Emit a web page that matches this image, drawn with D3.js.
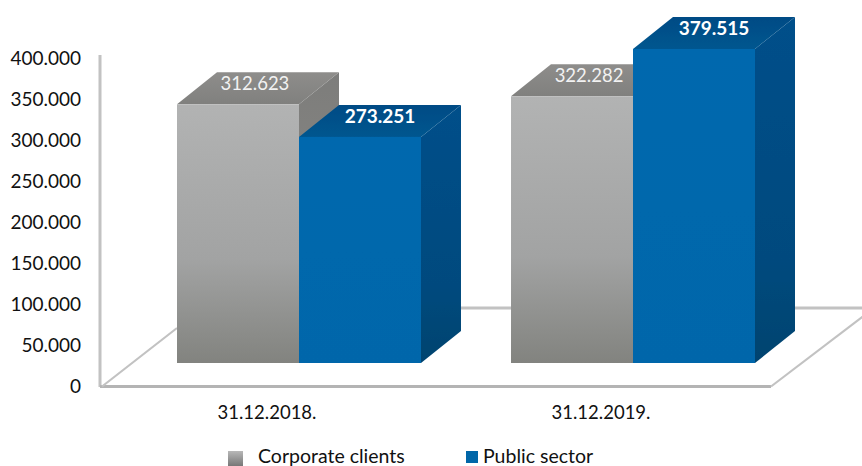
<!DOCTYPE html>
<html><head><meta charset="utf-8">
<script src="https://cdn.jsdelivr.net/npm/d3@7/dist/d3.min.js"></script>
<style>html,body{margin:0;padding:0;background:#fff;overflow:hidden}svg{display:block}text{font-family:Lato,"Open Sans",sans-serif}</style>
</head><body><svg id="c" width="862" height="466"></svg>
<script>
const categories = ["31.12.2018.", "31.12.2019."];
const seriesNames = ["Corporate clients", "Public sector"];
const corporate = [312.623, 322.282];
const publicSector = [273.251, 379.515];
const tickValues = [0, 50, 100, 150, 200, 250, 300, 350, 400];

const svg = d3.select("#c");
const fmt = v => v === 0 ? "0" : d3.format(".3f")(v);
const depthX = 40, depthY = 32, baseY = 363;

const x0 = d3.scaleBand().domain(categories).range([177, 755]).paddingInner(0.2695);
const x1 = d3.scaleBand().domain(seriesNames).range([0, x0.bandwidth()]);
const yBar = d3.scaleLinear().domain([0, 400]).range([baseY, baseY - 331]);
const yAxis = d3.scaleLinear().domain([0, 400]).range([386, 58]);

const defs = svg.append("defs");
const grad = (id, stops, h) => {
  const g = defs.append("linearGradient").attr("id", id)
    .attr("x1", 0).attr("y1", 0).attr("x2", h ? 1 : 0).attr("y2", h ? 0 : 1);
  stops.forEach(([o, c]) => g.append("stop").attr("offset", o).attr("stop-color", c));
};
grad("gf", [[0, "#b2b3b3"], [0.6, "#a2a3a3"], [1, "#82837f"]]);
grad("gt", [[0, "#8e8d8b"], [1, "#80807e"]]);
grad("gs", [[0, "#7d7d7b"], [1, "#8f8e8b"]]);
grad("bf", [[0, "#0068ae"], [1, "#0066aa"]]);
grad("bt", [[0, "#004b85"], [1, "#00568f"]]);
grad("bs", [[0, "#004f8a"], [0.7, "#004a7e"], [1, "#00436f"]]);
grad("lg", [[0, "#b8b8b8"], [1, "#777"]]);
defs.append("filter").attr("id", "soft").append("feGaussianBlur").attr("stdDeviation", 0.7);

// chart walls and floor
const frame = svg.append("g").attr("fill", "none").attr("stroke", "#c2c2c2").attr("filter", "url(#soft)");
frame.append("path").attr("stroke-width", 3).attr("d", "M100,55V387");
frame.append("path").attr("stroke-width", 3.2).attr("stroke", "#b4b4b4").attr("d", "M100,386.5H771");
frame.append("path").attr("stroke-width", 2.2).attr("d", "M102,386.5L177,328");
frame.append("path").attr("stroke-width", 2.2).attr("d", "M771,386.5L866,314");
frame.append("path").attr("stroke-width", 3).attr("d", "M461,308H862");

// axis tick labels
const axis = d3.axisLeft(yAxis).tickValues(tickValues).tickFormat(fmt).tickSize(0).tickPadding(0);
const axG = svg.append("g").attr("transform", "translate(81,0)").call(axis);
axG.select(".domain").remove();
axG.selectAll("text").attr("font-size", 19).attr("fill", "#111").style("font-family", "Lato,'Open Sans',sans-serif");

// bars
const barData = (name, vals) => categories.map((c, i) => ({c, name, v: vals[i]}));
const groups = [["g", barData(seriesNames[0], corporate)], ["b", barData(seriesNames[1], publicSector)]];
const bars = svg.append("g").attr("filter", "url(#soft)");
categories.forEach(cat => {
  groups.forEach(([k, rows]) => {
    const d = rows.find(r => r.c === cat);
    const L = x0(cat) + x1(d.name), W = x1.bandwidth(), R = L + W, T = yBar(d.v);
    const g = bars.append("g");
    g.append("path").attr("fill", `url(#${k}s)`)
      .attr("d", d3.line()([[R, T], [R + depthX, T - depthY], [R + depthX, baseY - depthY], [R, baseY]]));
    g.append("path").attr("fill", `url(#${k}t)`)
      .attr("d", d3.line()([[L, T], [L + depthX, T - depthY], [R + depthX, T - depthY], [R, T]]));
    g.append("rect").attr("x", L).attr("y", T).attr("width", W).attr("height", baseY - T).attr("fill", `url(#${k}f)`);
  });
});

// value labels
groups.forEach(([k, rows]) => rows.forEach(d => {
  svg.append("text")
    .attr("x", x0(d.c) + x1(d.name) + x1.bandwidth() / 2 + depthX / 2 - (k === "g" ? 3 : 0))
    .attr("y", yBar(d.v) - depthY / 2 + 2)
    .attr("text-anchor", "middle")
    .attr("font-size", k === "b" ? 19 : 18.5).attr("font-weight", k === "b" ? 700 : 400)
    .attr("fill", k === "b" ? "#fff" : "#f2f2f2")
    .text(fmt(d.v));
}));

// category labels
categories.forEach(c => svg.append("text")
  .attr("x", x0(c) + x0.bandwidth() / 2 - 32).attr("y", 419)
  .attr("text-anchor", "middle").attr("font-size", 18.5).attr("fill", "#111").text(c));

// legend
const legend = [
  {name: seriesNames[0], sx: 228, sw: 15, sy: 451, sh: 15, fill: "url(#lg)", tx: 258},
  {name: seriesNames[1], sx: 466, sw: 12, sy: 451, sh: 12, fill: "#0066a8", tx: 483}
];
legend.forEach(l => {
  svg.append("rect").attr("x", l.sx).attr("y", l.sy).attr("width", l.sw).attr("height", l.sh).attr("fill", l.fill);
  svg.append("text").attr("x", l.tx).attr("y", 463).attr("font-size", 19.5).attr("fill", "#111").text(l.name);
});
</script></body></html>
